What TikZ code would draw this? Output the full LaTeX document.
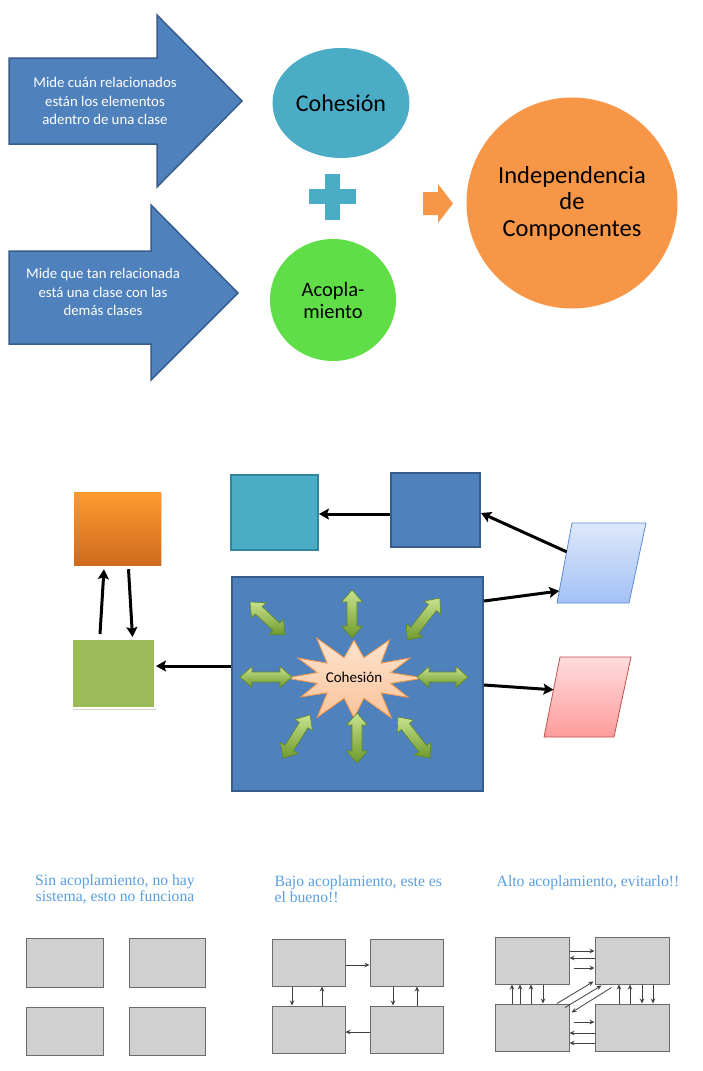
\documentclass[tikz,border=0pt]{standalone}
\usepackage{fontspec}
\setmainfont{Carlito}
\newfontfamily\capfont{Liberation Serif}
\usetikzlibrary{shapes.geometric,arrows.meta,shadows,calc}
\definecolor{ablue}{HTML}{4F81BD}
\definecolor{ablued}{HTML}{385D8A}
\definecolor{ateal}{HTML}{4BACC6}
\definecolor{atealD}{HTML}{31859C}
\definecolor{agreen}{HTML}{60DE48}
\definecolor{aorange}{HTML}{F79646}
\definecolor{olive}{HTML}{9BBB59}
\definecolor{dTop}{HTML}{C8E28E}
\definecolor{dBot}{HTML}{6E9A2C}
\definecolor{dLine}{HTML}{5E8526}
\definecolor{capblue}{HTML}{5A9FE0}
\definecolor{gfill}{HTML}{D0D0D0}
\definecolor{gline}{HTML}{6B6B6B}
\definecolor{lpTop}{HTML}{DDE8FB}
\definecolor{lpBot}{HTML}{A3C1F5}
\definecolor{lpLine}{HTML}{5B8BD0}
\definecolor{ppTop}{HTML}{FFDCDC}
\definecolor{ppBot}{HTML}{FF9C9C}
\definecolor{ppLine}{HTML}{C0504D}
\definecolor{orTop}{HTML}{FF9A30}
\definecolor{orBot}{HTML}{CF6A1E}
\definecolor{sbTop}{HTML}{FDE3CF}
\definecolor{sbBot}{HTML}{FBC49A}
\tikzset{
  bigarrow/.style={fill=ablue,draw=ablued,line width=1.5pt},
  arrtext/.style={text=white,align=center,font=\fontsize{14.8}{18.5}\selectfont},
  box/.style={rectangle,inner sep=0pt},
  blk/.style={line width=3pt,-{Stealth[length=10pt,width=11pt,inset=2pt]}},
  dblstyle/.style={top color=dTop,bottom color=dBot,draw=dLine,line width=0.6pt},
  pics/dbl/.style={code={
    \path[dblstyle] ({-#1/2},0) -- ({-#1/2+12},-10.5) -- ({-#1/2+12},-5) -- ({#1/2-12},-5) -- ({#1/2-12},-10.5) -- ({#1/2},0) -- ({#1/2-12},10.5) -- ({#1/2-12},5) -- ({-#1/2+12},5) -- ({-#1/2+12},10.5) -- cycle;
  }},
  starb/.style={top color=sbTop,bottom color=sbBot,draw=aorange,line width=0.8pt},
  captext/.style={text=capblue,font=\capfont\fontsize{15.7}{16}\selectfont},
  gbox/.style={rectangle,fill=gfill,draw=gline,line width=1pt,inner sep=0pt},
  sarr/.style={draw=black!75,line width=0.8pt,-{Stealth[length=5pt,width=4.5pt]}}
}
\begin{document}
\begin{tikzpicture}[x=1pt,y=-1pt]
\useasboundingbox[fill=white] (0,0) rectangle (703,1071);
% ---------- top ----------
\path[bigarrow] (9,58) -- (157,58) -- (157,15) -- (242,101) -- (157,187) -- (157,144) -- (9,144) -- cycle;
\node[arrtext] (t1) at (105,101) {Mide cuán relacionados\\están los elementos\\adentro de una clase};
\path[bigarrow] (9,251) -- (151,251) -- (151,205) -- (238,293) -- (151,380) -- (151,344) -- (9,344) -- cycle;
\node[arrtext] (t2) at (103,292) {Mide que tan relacionada\\está una clase con las\\demás clases};
\node[ellipse,fill=ateal,minimum width=131pt,minimum height=110pt,font=\fontsize{24}{25}\selectfont] (coh) at (341,103) {Cohesión};
\fill[ateal] (309,189) rectangle (356,204);
\fill[ateal] (325,174) rectangle (340,220);
\node[ellipse,fill=agreen,minimum width=126pt,minimum height=122pt,align=center,font=\fontsize{20.5}{22}\selectfont] (aco) at (333,300) {Acopla-\\miento};
\fill[aorange] (423,192) -- (438,192) -- (438,184) -- (453,203.5) -- (438,223) -- (438,215) -- (423,215) -- cycle;
\node[circle,fill=aorange,minimum size=211pt,align=center,font=\fontsize{24.5}{26.5}\selectfont] (ind) at (572,203) {Independencia\\de\\Componentes};
% ---------- middle ----------
\node[box,top color=orTop,bottom color=orBot,minimum width=87pt,minimum height=73pt,drop shadow={opacity=0.25,shadow xshift=1pt,shadow yshift=-1pt}] (orbox) at (117.5,528.5) {};
\node[box,fill=ateal,draw=atealD,line width=2pt,minimum width=87pt,minimum height=75pt] (cy) at (274.5,512.5) {};
\node[box,fill=ablue,draw=ablued,line width=2pt,minimum width=89pt,minimum height=74pt] (bl) at (435.5,510) {};
\node[box,fill=ablue,draw=ablued,line width=2pt,minimum width=251pt,minimum height=214pt] (big) at (357.5,684) {};
\node[box,fill=olive,draw=white,line width=2pt,minimum width=83pt,minimum height=69pt,drop shadow={opacity=0.35,shadow xshift=1pt,shadow yshift=-1.5pt}] (gr) at (113.5,673.5) {};
% parallelograms
\coordinate (lpbl) at (557,603); \coordinate (lptl) at (572,523);
\coordinate (lptr) at (646,523); \coordinate (lpbr) at (629,603);
\path[top color=lpTop,bottom color=lpBot,draw=lpLine,line width=0.8pt] (lpbl) -- (lptl) -- (lptr) -- (lpbr) -- cycle;
\coordinate (ppbl) at (544,737); \coordinate (pptl) at (560,657);
\coordinate (pptr) at (631,657); \coordinate (ppbr) at (614,737);
\path[top color=ppTop,bottom color=ppBot,draw=ppLine,line width=0.8pt] (ppbl) -- (pptl) -- (pptr) -- (ppbr) -- cycle;
% starburst
\path[starb] ({354+70},678) \foreach \a/\f in {30/0.92,60/1.1,90/0.95,120/1.08,150/0.9,180/1.0,210/0.95,240/1.1,270/0.9,300/1.05,330/0.95} { -- ({354+38*cos(\a-15)},{678+21*sin(\a-15)}) -- ({354+68*\f*cos(\a)},{678+42*\f*sin(\a)}) } -- ({354+38*cos(345)},{678+21*sin(345)}) -- cycle;
\node[font=\fontsize{15}{16}\selectfont] (cohtxt) at (354,677) {Cohesión};
% green double arrows
\pic[rotate=-43.3] at (267.5,618.5) {dbl=48};
\pic[rotate=90] at (352,614) {dbl=48};
\pic[rotate=52] at (423.5,619) {dbl=53};
\pic at (266,677) {dbl=52};
\pic at (442.5,677) {dbl=51};
\pic[rotate=58] at (296.5,736.5) {dbl=51};
\pic[rotate=90] at (357,738) {dbl=50};
\pic[rotate=-52] at (414,737.5) {dbl=52};
% black connectors
\draw[blk] ([yshift=-4pt]bl.west) -- ([yshift=-4pt]bl.west -| cy.east);
\draw[blk] ($(lpbl)!0.64!(lptl)$) -- ([yshift=-3pt]bl.east);
\draw[blk] ([yshift=-25pt]big.north east) -- ($(lpbl)!0.15!(lptl)$);
\draw[blk] ([yshift=-109pt]big.north east) -- ($(ppbl)!0.59!(pptl)$);
\draw[blk] ([yshift=18pt]big.west) -- ([yshift=18pt]big.west -| gr.east);
\draw[blk] ([xshift=-13.5pt,yshift=4pt]gr.north) -- ([xshift=-13.5pt,yshift=-4pt]orbox.south);
\draw[blk] ([xshift=11pt,yshift=-4pt]orbox.south) -- ([xshift=19pt,yshift=1pt]gr.north);
% ---------- bottom ----------
\node[captext,align=center] (c1) at (115,889) {Sin acoplamiento, no hay\\sistema, esto no funciona};
\node[captext,align=left,anchor=west] (c2) at (271,889) {Bajo acoplamiento, este es\\el bueno!!};
\node[captext] (c3) at (588,883) {Alto acoplamiento, evitarlo!!};
% group 1
\node[gbox,minimum width=77pt,minimum height=49pt] (a1) at (64.5,962.5) {};
\node[gbox,minimum width=76pt,minimum height=49pt] (a2) at (167,962.5) {};
\node[gbox,minimum width=77pt,minimum height=48pt] (a3) at (64.5,1031) {};
\node[gbox,minimum width=76pt,minimum height=48pt] (a4) at (167,1031) {};
% group 2
\node[gbox,minimum width=73pt,minimum height=47pt] (b1) at (308.5,962.5) {};
\node[gbox,minimum width=73pt,minimum height=47pt] (b2) at (406.5,962.5) {};
\node[gbox,minimum width=73pt,minimum height=47pt] (b3) at (308.5,1029.5) {};
\node[gbox,minimum width=73pt,minimum height=47pt] (b4) at (406.5,1029.5) {};
\draw[sarr] ([yshift=-2.5pt]b1.east) -- ([yshift=-2.5pt]b1.east -| b2.west);
\draw[sarr] ([xshift=-16.5pt]b1.south) -- ([xshift=-16.5pt]b1.south |- b3.north);
\draw[sarr] ([xshift=13.5pt]b3.north) -- ([xshift=13.5pt]b3.north |- b1.south);
\draw[sarr] ([xshift=-13.5pt]b2.south) -- ([xshift=-13.5pt]b2.south |- b4.north);
\draw[sarr] ([xshift=10.5pt]b4.north) -- ([xshift=10.5pt]b4.north |- b2.south);
\draw[sarr] ([yshift=-2.5pt]b4.west) -- ([yshift=-2.5pt]b4.west -| b3.east);
% group 3
\node[gbox,minimum width=74pt,minimum height=47pt] (d1) at (532,960.5) {};
\node[gbox,minimum width=74pt,minimum height=47pt] (d2) at (632,960.5) {};
\node[gbox,minimum width=74pt,minimum height=47pt] (d3) at (532,1027.5) {};
\node[gbox,minimum width=74pt,minimum height=47pt] (d4) at (632,1027.5) {};
\draw[sarr] ([yshift=9.5pt]d1.east) -- ([yshift=9.5pt]d1.east -| d2.west);
\draw[sarr] ([yshift=2.5pt]d2.west) -- ([yshift=2.5pt]d2.west -| d1.east);
\draw[sarr] ([xshift=4pt,yshift=-7.5pt]d1.east) -- ([yshift=-7.5pt]d1.east -| d2.west);
\foreach \s in {-20,-12,-1} {
  \draw[sarr] ([xshift=\s pt]d3.north) -- ([xshift=\s pt]d3.north |- d1.south);
}
\draw[sarr] ([xshift=11pt]d1.south) -- ([xshift=11pt]d1.south |- d3.north);
\foreach \s in {-13,-2} {
  \draw[sarr] ([xshift=\s pt]d4.north) -- ([xshift=\s pt]d4.north |- d2.south);
}
\foreach \s in {10,21} {
  \draw[sarr] ([xshift=\s pt]d2.south) -- ([xshift=\s pt]d2.south |- d4.north);
}
\draw[sarr] ([xshift=4pt,yshift=5.5pt]d3.east) -- ([yshift=5.5pt]d3.east -| d4.west);
\draw[sarr] ([yshift=-5.5pt]d4.west) -- ([yshift=-5.5pt]d4.west -| d3.east);
\draw[sarr] ([yshift=-15.5pt]d4.west) -- ([yshift=-15.5pt]d4.west -| d3.east);
\draw[sarr] ([xshift=25pt]d3.north) -- ([xshift=-1pt,yshift=3pt]d2.south west);
\draw[sarr] ([xshift=33pt,yshift=-4pt]d3.north) -- ([xshift=7pt,yshift=-1pt]d2.south west);
\draw[sarr] ([xshift=17pt,yshift=-3pt]d2.south west) -- ([xshift=2pt,yshift=-9pt]d3.north east);
\end{tikzpicture}
\end{document}
